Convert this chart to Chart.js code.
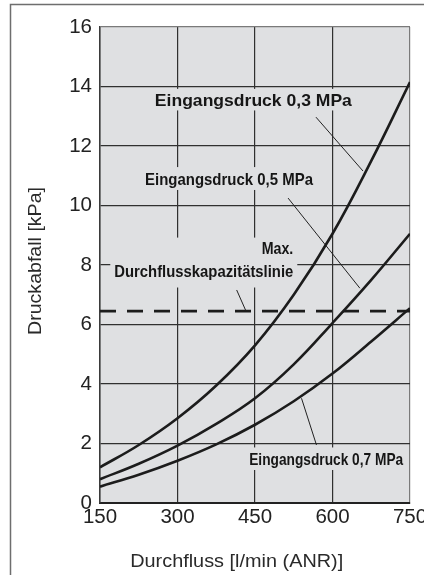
<!DOCTYPE html>
<html lang="de">
<head>
<meta charset="utf-8">
<title>Druckabfall / Durchfluss</title>
<script src="https://cdn.jsdelivr.net/npm/chart.js@4.4.1/dist/chart.umd.min.js"></script>
<style>
  html, body { margin: 0; padding: 0; background: #ffffff; overflow: hidden; }
  canvas { display: block; }
</style>
</head>
<body>
<canvas id="chart" width="424" height="575"></canvas>
<script>
// Durchfluss [l/min (ANR)] und Druckabfall [kPa] je Eingangsdruck
const flow = [150, 225, 300, 375, 450, 525, 600, 675, 750];
const drop03 = [1.2, 1.95, 2.85, 3.95, 5.3, 7.0, 9.05, 11.5, 14.15];
const drop05 = [0.8, 1.32, 1.93, 2.66, 3.52, 4.66, 6.05, 7.5, 9.05];
const drop07 = [0.55, 0.95, 1.42, 1.97, 2.63, 3.42, 4.35, 5.43, 6.55];

// Max. Durchflusskapazitätslinie
const maxCapacity = 6.45;

// Achsen
const xTicks = [150, 300, 450, 600, 750];
const yTicks = [0, 2, 4, 6, 8, 10, 12, 14, 16];

// Hinweislinien zu den Beschriftungen (Durchfluss, Druckabfall)
const leader03 = [[568, 12.97], [659, 11.16]];
const leader05 = [[514, 10.25], [653, 7.22]];
const leaderMax = [[414.5, 7.16], [432.6, 6.45]];
const leader07 = [[569, 1.95], [540, 3.52]];

const PLOT_BG = '#dfe0e2';
const INK = '#1c1c1c';
const FONT = '"Liberation Sans", Arial, Helvetica, sans-serif';

const toPoints = (xs, ys) => xs.map((x, i) => ({ x, y: ys[i] }));
const pairPoints = (pairs) => pairs.map(p => ({ x: p[0], y: p[1] }));

function curve(values) {
  return {
    data: toPoints(flow, values),
    borderColor: INK,
    borderWidth: 2.6,
    tension: 0.4,
    pointRadius: 0,
    fill: false
  };
}
function leader(pairs) {
  return {
    data: pairPoints(pairs),
    borderColor: '#222',
    borderWidth: 1,
    pointRadius: 0,
    fill: false
  };
}

// Beschriftungen im Diagramm: Position in Datenkoordinaten (Grundlinie)
const notes = [
  { text: 'Eingangsdruck 0,3 MPa', x: 446.8, y: 13.33, size: 16.5, width: 197, align: 'center', pad: [6, 4, 4, 4] },
  { text: 'Eingangsdruck 0,5 MPa', x: 399.7, y: 10.69, size: 17, width: 168, align: 'center', pad: [6, 4, 5, 4] },
  { text: 'Max.', x: 524.1, y: 8.36, size: 16.5, width: 31.6, align: 'right', pad: [6, 4, 2, 4] },
  { text: 'Durchflusskapazitätslinie', x: 524.1, y: 7.58, size: 17, width: 179, align: 'right', pad: [28, 4, 10, 4] },
  { text: 'Eingangsdruck 0,7 MPa', x: 587.8, y: 1.277, size: 16.5, width: 154, align: 'center', pad: [6, 4, 5, 4] }
];

function drawFitted(ctx, str, x, y, font, width, align) {
  ctx.save();
  ctx.font = font;
  const w = ctx.measureText(str).width;
  ctx.translate(x, y);
  ctx.scale(width / w, 1);
  ctx.textAlign = align;
  ctx.textBaseline = 'alphabetic';
  ctx.fillText(str, 0, 0);
  ctx.restore();
}

const framePlugin = {
  id: 'frame',
  beforeDraw(chart) {
    const { ctx, chartArea: a } = chart;
    ctx.save();
    ctx.fillStyle = '#ffffff';
    ctx.fillRect(0, 0, chart.width, chart.height);
    // äußerer Rahmen
    ctx.strokeStyle = '#6e6e6e';
    ctx.lineWidth = 1.5;
    ctx.beginPath();
    ctx.moveTo(10.5, chart.height);
    ctx.lineTo(10.5, 4.5);
    ctx.lineTo(chart.width, 4.5);
    ctx.stroke();
    // Hintergrund der Zeichenfläche
    ctx.fillStyle = PLOT_BG;
    ctx.fillRect(a.left, a.top, a.right - a.left, a.bottom - a.top);
    ctx.restore();
  }
};

const notesPlugin = {
  id: 'notes',
  beforeDatasetsDraw(chart) {
    const { ctx, scales } = chart;
    ctx.save();
    const boxes = notes.map(n => {
      const font = 'bold ' + n.size + 'px ' + FONT;
      const px = scales.x.getPixelForValue(n.x);
      const py = scales.y.getPixelForValue(n.y);
      const cap = n.size * 0.7;
      const left = n.align === 'center' ? px - n.width / 2 : (n.align === 'right' ? px - n.width : px);
      return { n, font, px, py, cap, left };
    });
    ctx.fillStyle = PLOT_BG;
    boxes.forEach(b => {
      const p = b.n.pad;
      ctx.fillRect(b.left - p[3], b.py - b.cap - p[0], b.n.width + p[1] + p[3], b.cap + p[0] + p[2]);
    });
    ctx.fillStyle = '#161616';
    boxes.forEach(b => drawFitted(ctx, b.n.text, b.px, b.py, b.font, b.n.width, b.n.align));
    ctx.restore();
  },
  afterDraw(chart) {
    const { ctx } = chart;
    ctx.save();
    ctx.fillStyle = '#2a2a2a';
    drawFitted(ctx, 'Durchfluss [l/min (ANR)]', 236.7, 567, '19px ' + FONT, 213, 'center');
    ctx.translate(40.5, 261);
    ctx.rotate(-Math.PI / 2);
    drawFitted(ctx, 'Druckabfall [kPa]', 0, 0, '19px ' + FONT, 148, 'center');
    ctx.restore();
  }
};

const gridColor = (edgeValue) => (ctx) =>
  (ctx.tick && ctx.tick.value === edgeValue) ? '#7a7a7a' : '#303030';

new Chart(document.getElementById('chart'), {
  type: 'line',
  data: {
    datasets: [
      curve(drop03),
      curve(drop05),
      curve(drop07),
      {
        data: [{ x: flow[0], y: maxCapacity }, { x: flow[flow.length - 1], y: maxCapacity }],
        borderColor: INK,
        borderWidth: 2.6,
        borderDash: [16, 11],
        pointRadius: 0,
        fill: false
      },
      leader(leader03),
      leader(leader05),
      leader(leaderMax),
      leader(leader07)
    ]
  },
  options: {
    responsive: false,
    animation: false,
    devicePixelRatio: 1,
    layout: { padding: { left: 0, top: 27, right: 14, bottom: 0 } },
    plugins: { legend: { display: false }, tooltip: { enabled: false } },
    elements: { point: { radius: 0 } },
    scales: {
      x: {
        type: 'linear',
        min: xTicks[0],
        max: xTicks[xTicks.length - 1],
        afterBuildTicks(scale) { scale.ticks = xTicks.map(v => ({ value: v })); },
        ticks: {
          autoSkip: false,
          maxRotation: 0,
          padding: 2,
          color: '#222',
          font: { family: FONT, size: 20.5 }
        },
        grid: { drawTicks: false, color: gridColor(750), lineWidth: 1.2 },
        border: { color: '#222', width: 2 },
        afterFit(scale) {
          scale.height = 72;
          scale.paddingLeft = 0;
          scale.paddingRight = 0;
        }
      },
      y: {
        min: yTicks[0],
        max: yTicks[yTicks.length - 1],
        afterBuildTicks(scale) { scale.ticks = yTicks.map(v => ({ value: v })); },
        ticks: {
          padding: 8,
          color: '#222',
          font: { family: FONT, size: 20.5 }
        },
        grid: { drawTicks: false, color: gridColor(16), lineWidth: 1.2 },
        border: { color: '#3a3a3a', width: 1.5 },
        afterFit(scale) {
          scale.width = 100;
          scale.paddingTop = 0;
          scale.paddingBottom = 0;
        }
      }
    }
  },
  plugins: [framePlugin, notesPlugin]
});
</script>
</body>
</html>
